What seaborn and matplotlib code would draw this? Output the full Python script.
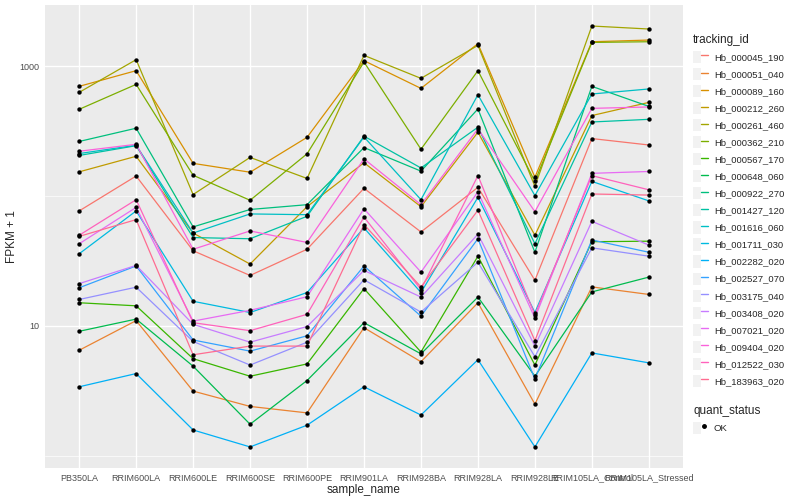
import pandas as pd
import matplotlib
matplotlib.use('Agg')
import matplotlib.pyplot as plt
import matplotlib.ticker as mticker
import seaborn as sns
from matplotlib.lines import Line2D
from matplotlib.patches import Patch
from matplotlib.legend_handler import HandlerTuple

# samples (x axis)
samples = ['PB350LA', 'RRIM600LA', 'RRIM600LE', 'RRIM600SE', 'RRIM600PE', 'RRIM901LA',
           'RRIM928BA', 'RRIM928LA', 'RRIM928LE', 'RRIM105LA_Control', 'RRIM105LA_Stressed']

genes = ['Hb_000045_190', 'Hb_000051_040', 'Hb_000089_160', 'Hb_000212_260', 'Hb_000261_460',
         'Hb_000362_210', 'Hb_000567_170', 'Hb_000648_060', 'Hb_000922_270', 'Hb_001427_120',
         'Hb_001616_060', 'Hb_001711_030', 'Hb_002282_020', 'Hb_002527_070', 'Hb_003175_040',
         'Hb_003408_020', 'Hb_007021_020', 'Hb_009404_020', 'Hb_012522_030', 'Hb_183963_020']

# ggplot default hue palette for 20 levels
colors = ['#F8766D', '#EA8331', '#D89000', '#C09B00', '#A3A500', '#7CAE00', '#39B600', '#00BB4E',
          '#00BF7D', '#00C1A3', '#00BFC4', '#00BAE0', '#00B0F6', '#35A2FF', '#9590FF', '#C77CFF',
          '#E76BF3', '#FA62DB', '#FF62BC', '#FF6C91']

# FPKM + 1 per sample
hb_000045_190 = [77, 143, 38, 24.5, 39, 115, 53, 117, 22.5, 278, 248]
hb_000051_040 = [6.5, 11.0, 3.15, 2.4, 2.14, 9.7, 5.3, 15.1, 2.5, 20, 17.5]
hb_000089_160 = [702, 927, 179, 153, 284, 1107, 677, 1496, 140, 1549, 1596]
hb_000212_260 = [154, 203, 52, 30, 83, 181, 83, 311, 50, 418, 528]
hb_000261_460 = [631, 1127, 103, 199, 137, 1216, 809, 1452, 119, 2047, 1941]
hb_000362_210 = [467, 727, 145, 93, 212, 1081, 230, 927, 130, 1530, 1549]
hb_000567_170 = [15.1, 14.3, 5.6, 4.1, 5.1, 19.4, 6.3, 34.5, 5.0, 44.6, 45]
hb_000648_060 = [9.1, 11.3, 4.9, 1.75, 3.8, 10.6, 6.1, 16.7, 4.1, 18.3, 23.8]
hb_000922_270 = [264, 334, 58, 79, 86, 237, 156, 470, 37, 702, 492]
hb_001427_120 = [206, 245, 48, 47, 70, 290, 165, 340, 43, 373, 391]
hb_001616_060 = [213, 247, 52, 73, 72, 286, 94, 605, 101, 613, 670]
hb_001711_030 = [36, 77, 15.5, 12.7, 18.1, 57, 18.1, 98, 12.7, 130, 92]
hb_002282_020 = [3.4, 4.3, 1.58, 1.17, 1.72, 3.4, 2.06, 5.5, 1.17, 6.2, 5.2]
hb_002527_070 = [19.7, 29, 7.8, 6.4, 8.4, 29, 11.9, 47, 3.9, 46, 37]
hb_003175_040 = [16, 19.9, 7.6, 5.0, 7.5, 22.7, 12.8, 31, 5.8, 40, 34.5]
hb_003408_020 = [21.2, 29.3, 10.3, 7.5, 9.9, 26.8, 16.7, 51, 7.0, 64, 42]
hb_007021_020 = [43, 82, 10.9, 13.2, 16.8, 80, 26, 108, 11.5, 150, 155]
hb_009404_020 = [222, 251, 39, 54, 44, 194, 86, 330, 76, 475, 487]
hb_012522_030 = [50, 94, 10.6, 9.2, 12.3, 69, 19.1, 144, 12.2, 144, 112]
hb_183963_020 = [49, 66, 6.0, 7.0, 7.0, 60.5, 20, 78, 7.7, 104, 102]

series = [hb_000045_190, hb_000051_040, hb_000089_160, hb_000212_260, hb_000261_460,
          hb_000362_210, hb_000567_170, hb_000648_060, hb_000922_270, hb_001427_120,
          hb_001616_060, hb_001711_030, hb_002282_020, hb_002527_070, hb_003175_040,
          hb_003408_020, hb_007021_020, hb_009404_020, hb_012522_030, hb_183963_020]

rows = []
for g, vals in zip(genes, series):
    for s, v in zip(samples, vals):
        rows.append((g, s, v))
df = pd.DataFrame(rows, columns=['tracking_id', 'sample_name', 'fpkm'])

sns.set_theme(style='darkgrid', rc={'axes.facecolor': '#EBEBEB', 'grid.color': 'white',
                                    'grid.linewidth': 1.0})
plt.rcParams['font.family'] = ['Liberation Sans', 'DejaVu Sans']

fig = plt.figure(figsize=(8, 5), dpi=100)
ax = fig.add_axes([45 / 800, 32 / 500, 638 / 800, 463 / 500])

sns.lineplot(data=df, x='sample_name', y='fpkm', hue='tracking_id', hue_order=genes,
             palette=colors, linewidth=0.9, sort=False, estimator=None, legend=False, ax=ax)
sns.scatterplot(data=df, x='sample_name', y='fpkm', color='black', s=10, linewidth=0,
                legend=False, ax=ax, zorder=3)

ax.set_yscale('log')
ax.set_ylim(0.805, 2972)
ax.set_xlim(-0.6, 10.6)
ax.yaxis.set_major_locator(mticker.FixedLocator([10, 1000]))
ax.yaxis.set_major_formatter(mticker.FixedFormatter(['10', '1000']))
ax.yaxis.set_minor_locator(mticker.FixedLocator([1, 100]))
ax.yaxis.set_minor_formatter(mticker.NullFormatter())
ax.grid(which='major', color='white', linewidth=1.0)
ax.grid(which='minor', axis='y', color='white', linewidth=0.5)
for sp in ax.spines.values():
    sp.set_visible(False)
ax.tick_params(which='major', length=3, width=0.8, color='#333333', labelsize=6.5,
               labelcolor='#4D4D4D', pad=1)
ax.tick_params(which='minor', length=0)
ax.set_xlabel('sample_name', fontsize=8.5, labelpad=1)
ax.set_ylabel('FPKM + 1', fontsize=8.5)
ax.yaxis.set_label_coords(-0.042, 0.5)

# legend for tracking_id
handles = [(Patch(facecolor='#F2F2F2', edgecolor='none'), Line2D([], [], color=c, lw=1))
           for c in colors]
fig.legend(handles, genes, handler_map={tuple: HandlerTuple(ndivide=None, pad=0)},
           loc='upper left', bbox_to_anchor=(693 / 800, 1 - 34 / 500), frameon=False,
           title='tracking_id', fontsize=6.8, title_fontsize=8.5, handlelength=1.6,
           handleheight=1.6, labelspacing=0.52, handletextpad=0.6, borderaxespad=0,
           borderpad=0, alignment='left')

# legend for quant_status
ok_handle = [(Patch(facecolor='#F2F2F2', edgecolor='none'),
              Line2D([], [], color='black', marker='o', lw=0, ms=2.5))]
fig.legend(ok_handle, ['OK'], handler_map={tuple: HandlerTuple(ndivide=None, pad=0)},
           loc='upper left', bbox_to_anchor=(693 / 800, 1 - 405 / 500), frameon=False,
           title='quant_status', fontsize=6.8, title_fontsize=8.5, handlelength=1.6,
           handleheight=1.6, handletextpad=0.6, borderaxespad=0, borderpad=0,
           alignment='left')

fig.savefig('out.png', dpi=100)
